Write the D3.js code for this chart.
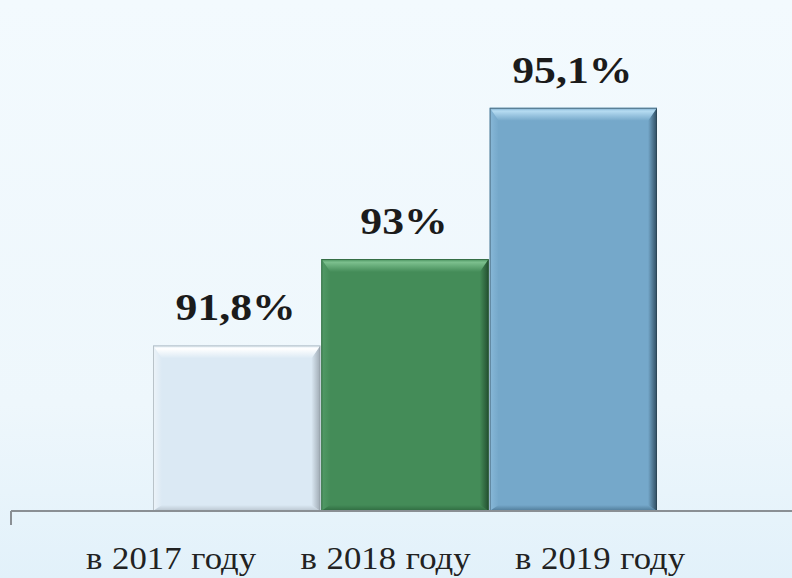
<!DOCTYPE html>
<html>
<head>
<meta charset="utf-8">
<script src="https://cdn.jsdelivr.net/npm/d3@7"></script>
<style>
  html, body { margin: 0; padding: 0; }
  body { width: 792px; height: 578px; overflow: hidden; }
  svg { display: block; }
</style>
</head>
<body>
<svg id="chart" width="792" height="578"></svg>
<script>
// ---- data ----
const categories = ["в 2017 году", "в 2018 году", "в 2019 году"];
const values = [91.8, 93, 95.1];
const valueLabels = ["91,8%", "93%", "95,1%"];
const yDomain = [89.5, 96];

// ---- styles ----
const palettes = [
  { main: "#dbe9f4", top: "#ffffff", left: "#edf4f9", right: "#9ea9b2", bottom: "#b9c5cf", edge: "#8f9aa3" },
  { main: "#448c58", top: "#7cc08e", left: "#529b67", right: "#234f30", bottom: "#2f6a40", edge: "#234f30" },
  { main: "#75a8ca", top: "#b6dcf2", left: "#88b8d8", right: "#2e4b5f", bottom: "#4f7a97", edge: "#2a3f4d" }
];

const W = 792, H = 578;
const svg = d3.select("#chart");
const defs = svg.append("defs");

// background gradient
const bg = defs.append("linearGradient").attr("id", "bg").attr("x1", 0).attr("y1", 0).attr("x2", 0).attr("y2", 1);
bg.append("stop").attr("offset", "0%").attr("stop-color", "#f3fafe");
bg.append("stop").attr("offset", "70%").attr("stop-color", "#eef7fc");
bg.append("stop").attr("offset", "100%").attr("stop-color", "#e2f1fa");
svg.append("rect").attr("width", W).attr("height", H).attr("fill", "url(#bg)");

// scales
const x = d3.scaleBand().domain(categories).range([153, 657]).paddingInner(0.006).paddingOuter(0);
const y = d3.scaleLinear().domain(yDomain).range([511, 43]);
const xl = d3.scalePoint().domain(categories).range([171, 600]);

// per-bar gradients for bevels
palettes.forEach((p, i) => {
  const gt = defs.append("linearGradient").attr("id", "gt" + i).attr("x1", 0).attr("y1", 0).attr("x2", 0).attr("y2", 1);
  gt.append("stop").attr("offset", "0%").attr("stop-color", p.main);
  gt.append("stop").attr("offset", "25%").attr("stop-color", p.top);
  gt.append("stop").attr("offset", "100%").attr("stop-color", p.main);
  const gr = defs.append("linearGradient").attr("id", "gr" + i).attr("x1", 0).attr("y1", 0).attr("x2", 1).attr("y2", 0);
  gr.append("stop").attr("offset", "0%").attr("stop-color", p.main);
  gr.append("stop").attr("offset", "100%").attr("stop-color", p.right);
  const gb = defs.append("linearGradient").attr("id", "gb" + i).attr("x1", 0).attr("y1", 0).attr("x2", 0).attr("y2", 1);
  gb.append("stop").attr("offset", "0%").attr("stop-color", p.main);
  gb.append("stop").attr("offset", "100%").attr("stop-color", p.bottom);
  const gl = defs.append("linearGradient").attr("id", "gl" + i).attr("x1", 0).attr("y1", 0).attr("x2", 1).attr("y2", 0);
  gl.append("stop").attr("offset", "0%").attr("stop-color", p.left);
  gl.append("stop").attr("offset", "100%").attr("stop-color", p.main);
});

const data = categories.map((c, i) => ({ c, v: values[i], label: valueLabels[i], i }));
const bev = 13, bevSide = 9, bevBot = 6;

const bars = svg.selectAll("g.bar").data(data).join("g").attr("class", "bar");
bars.each(function(d) {
  const g = d3.select(this);
  const x0 = x(d.c), x1 = x(d.c) + x.bandwidth();
  const y0 = y(d.v), y1 = y(yDomain[0]);
  const p = palettes[d.i];
  g.append("rect").attr("x", x0).attr("y", y0).attr("width", x1 - x0).attr("height", y1 - y0).attr("fill", p.main);
  const poly = pts => pts.map(q => q.join(",")).join(" ");
  g.append("polygon").attr("points", poly([[x0, y0], [x0 + bevSide, y0 + bev], [x0 + bevSide, y1 - bevBot], [x0, y1]])).attr("fill", "url(#gl" + d.i + ")");
  g.append("polygon").attr("points", poly([[x0, y1], [x0 + bevSide, y1 - bevBot], [x1 - bevSide, y1 - bevBot], [x1, y1]])).attr("fill", "url(#gb" + d.i + ")");
  g.append("polygon").attr("points", poly([[x1, y0], [x1, y1], [x1 - bevSide, y1 - bevBot], [x1 - bevSide, y0 + bev]])).attr("fill", "url(#gr" + d.i + ")");
  g.append("polygon").attr("points", poly([[x0, y0], [x1, y0], [x1 - bevSide, y0 + bev], [x0 + bevSide, y0 + bev]])).attr("fill", "url(#gt" + d.i + ")");
  g.append("rect").attr("x", x0 + 0.5).attr("y", y0 + 0.5).attr("width", x1 - x0 - 1).attr("height", y1 - y0 - 1)
    .attr("fill", "none").attr("stroke", p.edge).attr("stroke-opacity", 0.55).attr("stroke-width", 1);
});

// value labels
svg.selectAll("text.val").data(data).join("text").attr("class", "val")
  .attr("transform", d => `translate(${x(d.c) + x.bandwidth() / 2 - 1},${y(d.v) - 25}) scale(1.15,1)`)
  .attr("text-anchor", "middle")
  .attr("font-family", "'Liberation Serif', 'Times New Roman', serif")
  .attr("font-weight", "bold").attr("font-size", 38).attr("fill", "#1b1b1b")
  .text(d => d.label);

// axis line
const axisY = y(yDomain[0]);
svg.append("line").attr("x1", 11).attr("x2", W).attr("y1", axisY).attr("y2", axisY)
  .attr("stroke", "#8a8f94").attr("stroke-width", 2);
svg.append("line").attr("x1", 11).attr("x2", 11).attr("y1", axisY).attr("y2", axisY + 14)
  .attr("stroke", "#8a8f94").attr("stroke-width", 2);

// category labels
svg.selectAll("text.cat").data(categories).join("text").attr("class", "cat")
  .attr("transform", c => `translate(${xl(c)},569) scale(1.12,1)`)
  .attr("text-anchor", "middle")
  .attr("font-family", "'Liberation Serif', 'Times New Roman', serif")
  .attr("font-size", 31).attr("word-spacing", 1).attr("fill", "#222")
  .text(c => c);
</script>
</body>
</html>
